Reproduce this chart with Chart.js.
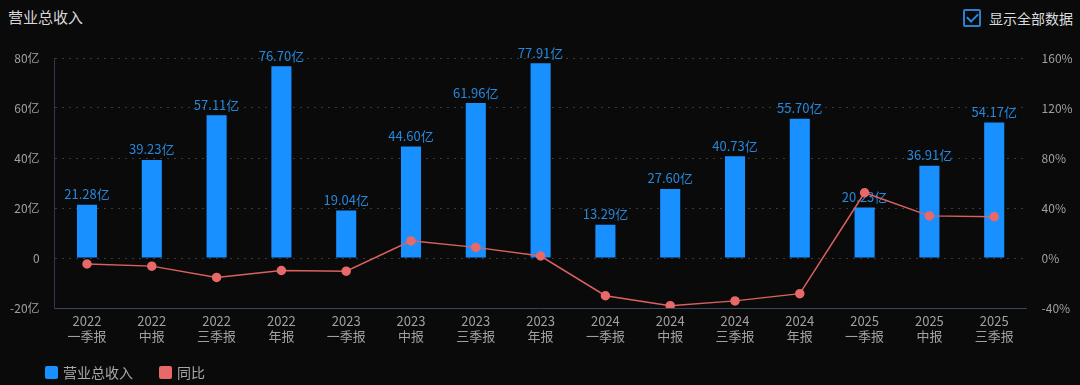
<!DOCTYPE html>
<html>
<head>
<meta charset="utf-8">
<script src="https://cdn.jsdelivr.net/npm/chart.js@4/dist/chart.umd.min.js"></script>
<style>
  html, body { margin: 0; padding: 0; background: #0a0a0b; }
  body { width: 1080px; height: 385px; position: relative; overflow: hidden;
         font-family: "Noto Sans CJK SC", "Noto Sans", sans-serif; }
  #title { position: absolute; left: 8px; top: 6px; font-size: 15px; color: #d8d8d8; }
  #toggle { position: absolute; left: 963px; top: 8px; font-size: 14px; color: #dcdcdc; display: flex; align-items: center; }
  #toggle .box { width: 14px; height: 14px; border: 2px solid #2b7fd0; border-radius: 2px; margin-right: 8px; position: relative; }
  #toggle .box:after { content: ""; position: absolute; left: 4px; top: 0px; width: 5px; height: 9px;
         border: solid #2b8ae0; border-width: 0 2px 2px 0; transform: rotate(45deg); }
  #legend { position: absolute; left: 45px; top: 362px; font-size: 14px; color: #a8a8a8; display: flex; align-items: center; }
  #legend .sw { width: 13px; height: 13px; border-radius: 2px; margin-right: 5px; }
  #legend .item { display: flex; align-items: center; margin-right: 26px; }
  canvas { position: absolute; left: 0; top: 0; }
</style>
</head>
<body>
<div id="title">营业总收入</div>
<div id="toggle"><span class="box"></span>显示全部数据</div>
<canvas id="chart" width="1080" height="385"></canvas>
<div id="legend">
  <div class="item"><span class="sw" style="background:#1890ff"></span>营业总收入</div>
  <div class="item"><span class="sw" style="background:#e8696a"></span>同比</div>
</div>
<script>
// 报告期
const periods = [
  ['2022', '一季报'], ['2022', '中报'], ['2022', '三季报'], ['2022', '年报'],
  ['2023', '一季报'], ['2023', '中报'], ['2023', '三季报'], ['2023', '年报'],
  ['2024', '一季报'], ['2024', '中报'], ['2024', '三季报'], ['2024', '年报'],
  ['2025', '一季报'], ['2025', '中报'], ['2025', '三季报']
];
// 营业总收入 (亿)
const revenue = [21.28, 39.23, 57.11, 76.70, 19.04, 44.60, 61.96, 77.91, 13.29, 27.60, 40.73, 55.70, 20.23, 36.91, 54.17];
// 同比 (%)
const yoy = [-4.8, -6.5, -15.5, -10.0, -10.5, 13.7, 8.5, 1.6, -30.2, -38.1, -34.3, -28.5, 52.2, 33.7, 33.0];

const leftTicks = { min: -20, max: 80, step: 20 };
const rightTicks = { min: -40, max: 160, step: 40 };

const FONT = '"Noto Sans CJK SC", "Noto Sans", sans-serif';

// etichette sopra le barre
const barLabels = {
  id: 'barLabels',
  afterDatasetDraw(chart, args) {
    if (args.index !== 0) return;
    const ctx = chart.ctx;
    ctx.save();
    ctx.font = '13px ' + FONT;
    ctx.fillStyle = '#2787da';
    ctx.textAlign = 'center';
    ctx.textBaseline = 'bottom';
    args.meta.data.forEach((bar, i) => {
      ctx.fillText(revenue[i].toFixed(2) + '亿', bar.x, bar.y - 4);
    });
    ctx.restore();
  }
};

new Chart(document.getElementById('chart').getContext('2d'), {
  type: 'bar',
  data: {
    labels: periods,
    datasets: [
      {
        type: 'bar',
        label: '营业总收入',
        data: revenue,
        backgroundColor: '#1890ff',
        yAxisID: 'y',
        categoryPercentage: 1,
        barPercentage: 0.31,
        order: 1
      },
      {
        type: 'line',
        label: '同比',
        data: yoy,
        borderColor: '#d9625f',
        backgroundColor: '#e8696a',
        pointBackgroundColor: '#e8696a',
        pointBorderColor: '#e8696a',
        pointRadius: 4,
        borderWidth: 1.5,
        tension: 0,
        yAxisID: 'y1',
        order: 0
      }
    ]
  },
  options: {
    responsive: false,
    animation: false,
    layout: { padding: { top: 58, left: 0, right: 0, bottom: 32 } },
    plugins: {
      legend: { display: false },
      tooltip: { enabled: false }
    },
    scales: {
      x: {
        grid: { display: false, drawTicks: false },
        border: { display: true, color: '#34475c', width: 1 },
        ticks: { color: '#a0a0a0', font: { size: 13, family: FONT, lineHeight: 1.15 }, padding: 6, maxRotation: 0, autoSkip: false },
        afterFit(scale) { scale.height = 45; }
      },
      y: {
        position: 'left',
        min: leftTicks.min, max: leftTicks.max,
        ticks: { stepSize: leftTicks.step, color: '#a0a0a0', font: { size: 12, family: FONT }, padding: 15,
                 callback: v => v === 0 ? '0' : v + '亿' },
        grid: { color: '#3c3c3c', drawTicks: false, lineWidth: 1 },
        border: { display: true, color: '#2e3a48', dash: [2, 5] },
        afterFit(scale) { scale.width = 54.6; }
      },
      y1: {
        position: 'right',
        min: rightTicks.min, max: rightTicks.max,
        ticks: { stepSize: rightTicks.step, color: '#a0a0a0', font: { size: 12, family: FONT }, padding: 15,
                 callback: v => v + '%' },
        grid: { display: false, drawTicks: false },
        border: { display: false },
        afterFit(scale) { scale.width = 53.4; }
      }
    }
  },
  plugins: [barLabels]
});
</script>
</body>
</html>
